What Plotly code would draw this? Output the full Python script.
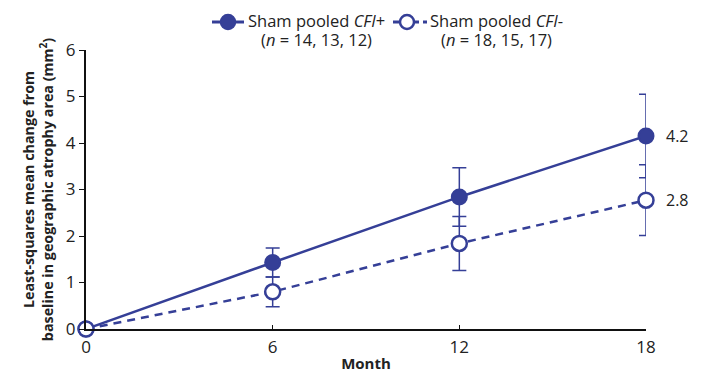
import plotly.graph_objects as go

months = [0, 6, 12, 18]
cfi_pos = [0, 1.43, 2.84, 4.15]
cfi_pos_err = [0, 0.31, 0.63, 0.90]
cfi_neg = [0, 0.80, 1.84, 2.77]
cfi_neg_err = [0, 0.32, 0.58, 0.76]
end_labels = ["4.2", "2.8"]
yticks = [0, 1, 2, 3, 4, 5, 6]
xticks = [0, 6, 12, 18]
legend_names = ["Sham pooled <i>CFI</i>+", "Sham pooled <i>CFI</i>-"]
legend_ns = ["(<i>n</i> = 14, 13, 12)", "(<i>n</i> = 18, 15, 17)"]

C = "#353f97"
FONT = "Open Sans"
TXT = "#222"

fig = go.Figure()
fig.add_trace(go.Scatter(
    x=months, y=cfi_pos, mode="lines+markers", name=legend_names[0],
    line=dict(color=C, width=2.5),
    marker=dict(size=15, color=C, line=dict(color=C, width=2)),
    error_y=dict(type="data", array=cfi_pos_err, color=C, thickness=1.5, width=7),
    cliponaxis=False,
))
fig.add_trace(go.Scatter(
    x=months, y=cfi_neg, mode="lines+markers", name=legend_names[1],
    line=dict(color=C, width=2.5, dash="8px,6px"),
    marker=dict(size=15, color="white", line=dict(color=C, width=2.5)),
    error_y=dict(type="data", array=cfi_neg_err, color=C, thickness=1.5, width=7),
    cliponaxis=False,
))

for yv, lab in zip([cfi_pos[-1], cfi_neg[-1]], end_labels):
    fig.add_annotation(x=months[-1], y=yv, text=lab, showarrow=False,
                       xanchor="left", xshift=18, font=dict(size=16, color=TXT, family=FONT))

# manual legend (plot area: 560 px wide, 279 px tall)
W, H = 560.0, 279.0
def px(x):
    return (x - 86) / W
def py(y):
    return (329 - y) / H

sym_y = py(22)
# entry 1: solid line + filled circle
fig.add_shape(type="line", xref="paper", yref="paper", x0=px(212), x1=px(244), y0=sym_y, y1=sym_y,
              line=dict(color=C, width=3))
fig.add_shape(type="circle", xref="paper", yref="paper", xsizemode="pixel", ysizemode="pixel",
              xanchor=px(228), yanchor=sym_y, x0=-7.5, x1=7.5, y0=-7.5, y1=7.5,
              fillcolor=C, line=dict(color=C, width=1.5))
# entry 2: dashed line + open circle
fig.add_shape(type="line", xref="paper", yref="paper", x0=px(393), x1=px(427), y0=sym_y, y1=sym_y,
              line=dict(color=C, width=3, dash="6px,4px"))
fig.add_shape(type="circle", xref="paper", yref="paper", xsizemode="pixel", ysizemode="pixel",
              xanchor=px(407), yanchor=sym_y, x0=-7, x1=7, y0=-7, y1=7,
              fillcolor="white", line=dict(color=C, width=2.5))

for cx, name, nn in zip([316, 497], legend_names, legend_ns):
    fig.add_annotation(xref="paper", yref="paper", x=px(cx), y=py(20.5), text=name, showarrow=False,
                       xanchor="center", yanchor="middle", font=dict(size=16.5, color=TXT, family=FONT))
    fig.add_annotation(xref="paper", yref="paper", x=px(cx), y=py(39.5), text=nn, showarrow=False,
                       xanchor="center", yanchor="middle", font=dict(size=16.5, color=TXT, family=FONT))

fig.update_layout(
    width=701, height=365,
    margin=dict(l=78, r=63, t=42, b=44, autoexpand=False),
    plot_bgcolor="white", paper_bgcolor="white",
    font=dict(family=FONT, color=TXT),
    showlegend=False,
    xaxis=dict(range=[0, 18], tickvals=xticks, showline=True, linecolor="#111", linewidth=2,
               ticks="inside", ticklen=4, tickcolor="#111", showgrid=False, zeroline=False,
               automargin=False, ticklabelstandoff=2,
               tickfont=dict(size=17, family=FONT, color=TXT),
               title=dict(text="<b>Month</b>", font=dict(size=15, family=FONT, color=TXT), standoff=4)),
    yaxis=dict(range=[0, 6], tickvals=yticks, showline=True, linecolor="#111", linewidth=2,
               ticks="outside", ticklen=5, tickcolor="#111", showgrid=False, zeroline=False,
               automargin=False,
               tickfont=dict(size=17, family=FONT, color=TXT),
               title=dict(text="<b>Least-squares mean change from<br>baseline in geographic atrophy area (mm<sup>2</sup>)</b>",
                          font=dict(size=14.3, family=FONT, color=TXT), standoff=9)),
)

fig.write_html("out.html")
